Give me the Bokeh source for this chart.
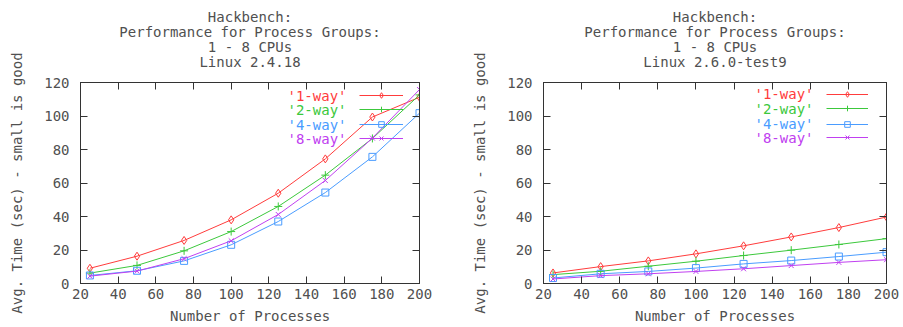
from bokeh.plotting import figure
from bokeh.models import Range1d, LinearAxis, Label, Legend, LegendItem, FixedTicker, Title
from bokeh.layouts import row
from bokeh.embed import file_html
from bokeh.resources import INLINE

# ---- data ----
procs = [25, 50, 75, 100, 125, 150, 175, 200]

series_names = ["'1-way'", "'2-way'", "'4-way'", "'8-way'"]

# Linux 2.4.18
one_way_24 = [9.1, 16.3, 25.7, 38.0, 53.9, 74.4, 99.4, 111.2]
two_way_24 = [6.2, 10.8, 19.5, 31.0, 46.0, 64.7, 86.6, 112.6]
four_way_24 = [4.8, 7.6, 13.5, 23.1, 37.0, 54.3, 75.6, 101.7]
eight_way_24 = [4.4, 7.4, 14.8, 25.5, 41.2, 61.5, 86.8, 115.8]

# Linux 2.6.0-test9
one_way_26 = [6.3, 10.1, 13.5, 17.7, 22.5, 27.8, 33.4, 39.7]
two_way_26 = [5.3, 7.3, 10.3, 13.3, 16.7, 19.9, 23.3, 26.8]
four_way_26 = [3.3, 5.8, 7.2, 9.2, 11.7, 13.7, 16.1, 18.7]
eight_way_26 = [2.7, 4.7, 5.8, 7.2, 8.8, 10.7, 12.6, 14.2]

x_ticks = [20, 40, 60, 80, 100, 120, 140, 160, 180, 200]
y_ticks = [0, 20, 40, 60, 80, 100, 120]

title_24 = ["Hackbench:", "Performance for Process Groups:", "1 - 8 CPUs", "Linux 2.4.18"]
title_26 = ["Hackbench:", "Performance for Process Groups:", "1 - 8 CPUs", "Linux 2.6.0-test9"]

x_label = "Number of Processes"
y_label = "Avg. Time (sec) - small is good"

# ---- style ----
FONT = "DejaVu Sans Mono"
FS = "14px"
TXT = "#505050"
AX = "#333333"
COLORS = ["#ff3c3c", "#3cc83c", "#4a9cff", "#c040f0"]
MARKERS = ["diamond", "cross", "square", "x"]
MSIZES = [8, 8, 7, 7]
H = 327


def make_panel(width, bl, br, titles, data, leg_text_x, leg_glyph_x, leg_glyph_w, leg_rows):
    p = figure(width=width, height=H, x_range=Range1d(20, 200), y_range=Range1d(0, 120),
               output_backend="svg", toolbar_location=None, title=None,
               min_border_left=bl, min_border_right=br, min_border_top=82, min_border_bottom=44)

    p.xgrid.visible = False
    p.ygrid.visible = False
    p.outline_line_color = AX
    p.outline_line_width = 1
    p.background_fill_color = "white"
    p.border_fill_color = "white"

    xt = FixedTicker(ticks=x_ticks)
    yt = FixedTicker(ticks=y_ticks)

    bottom = p.below[0]
    left = p.left[0]
    bottom.ticker = xt
    bottom.axis_label = x_label
    bottom.axis_label_standoff = 6
    bottom.major_label_standoff = 5
    left.ticker = yt
    left.axis_label = y_label
    left.axis_label_standoff = 16
    left.major_label_standoff = 11

    top = LinearAxis(ticker=xt)
    right = LinearAxis(ticker=yt)
    p.add_layout(top, "above")
    p.add_layout(right, "right")

    # invisible spacer between the mirrored top axis and the title lines
    spacer = LinearAxis(ticker=xt, axis_line_color=None, major_tick_line_color=None,
                        minor_tick_line_color=None, major_tick_in=0, major_tick_out=14,
                        major_label_text_color=None, major_label_text_font_size="1px",
                        major_label_standoff=0)
    p.add_layout(spacer, "above")

    for t in reversed(titles):
        p.add_layout(Title(text=t, align="center", text_font=FONT, text_font_size=FS,
                           text_font_style="normal", text_color=TXT, standoff=-3,
                           offset=0), "above")

    for ax in [bottom, left]:
        ax.major_label_text_font = FONT
        ax.major_label_text_font_size = FS
        ax.major_label_text_color = TXT
        ax.axis_label_text_font = FONT
        ax.axis_label_text_font_size = FS
        ax.axis_label_text_color = TXT
        ax.axis_label_text_font_style = "normal"
    for ax in [bottom, left, top, right]:
        ax.axis_line_color = AX
        ax.major_tick_line_color = AX
        ax.major_tick_in = 7
        ax.major_tick_out = 0
        ax.minor_tick_line_color = None
    for ax in [top, right]:
        ax.major_label_text_font_size = "1px"
        ax.major_label_text_color = None
        ax.major_label_standoff = 0

    for i, ys in enumerate(data):
        c = COLORS[i]
        lr = p.line(procs, ys, line_color=c, line_width=1)
        sr = p.scatter(procs, ys, marker=MARKERS[i], size=MSIZES[i], line_color=c,
                       fill_color=None, line_width=1)
        yc = leg_rows[i]
        p.add_layout(Label(x=leg_text_x, y=yc, x_units="screen", y_units="screen",
                           text=series_names[i], text_align="right", text_baseline="middle",
                           text_font=FONT, text_font_size=FS, text_color=c))
        leg = Legend(items=[LegendItem(label=" ", renderers=[lr, sr])],
                     location=(leg_glyph_x, yc - 7), glyph_width=leg_glyph_w, glyph_height=14,
                     label_height=14, label_width=1, label_standoff=0, padding=0, margin=0,
                     spacing=0, border_line_color=None, background_fill_alpha=0,
                     label_text_font_size="1px", label_text_color=None)
        p.add_layout(leg)
    return p


p1 = make_panel(453, 80, 34, title_24,
                [one_way_24, two_way_24, four_way_24, eight_way_24],
                266, 279, 44, [188, 174, 158.7, 144.7])
p2 = make_panel(450, 90, 17, title_26,
                [one_way_26, two_way_26, four_way_26, eight_way_26],
                270, 283, 42, [189.3, 175, 159.3, 145.6])

layout = row(p1, p2)
open("out.html", "w").write(file_html(layout, INLINE))
